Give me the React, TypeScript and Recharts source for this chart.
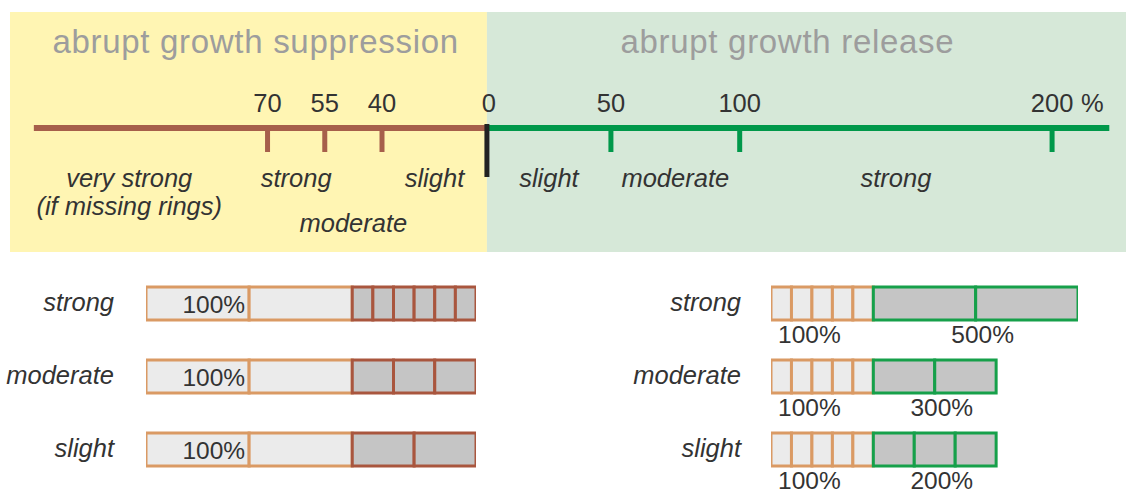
import {
  ComposedChart,
  BarChart,
  Bar,
  Scatter,
  XAxis,
  YAxis,
  ReferenceArea,
  ReferenceLine,
} from 'recharts'

const FONT = '"Liberation Sans", Arial, Helvetica, sans-serif'
const INK = '#333333'

// Schematic axis: % decrease left of 0, % increase right of 0 (axis units, not to scale)
const suppressionTickLabels = ['70', '55', '40']
const suppressionTickValues = [-92, -68, -44]
const releaseTickLabels = ['50', '100', '200']
const releaseTickValues = [52, 106, 237]
const axisExtent = [-190, 261]
const panelExtent = [-200, 268]

const suppressionClasses = ['very strong', 'strong', 'moderate', 'slight']
const suppressionNotes = ['(if missing rings)', '', '', '']
const releaseClasses = ['slight', 'moderate', 'strong']

const panelTitles = ['abrupt growth suppression', 'abrupt growth release']

// Ring-width examples (width of each ring, % of a normal ring)
const intensities = ['strong', 'moderate', 'slight']
const suppressionControl = [100, 100]
const suppressionRings = [
  [20, 20, 20, 20, 20, 20],
  [40, 40, 40],
  [60, 60],
]
const suppressionLabels = ['20%', '30%', '50%']
const releaseControl = [100, 100, 100, 100, 100]
const releaseRings = [
  [500, 500],
  [300, 300],
  [200, 200, 200],
]
const releaseLabels = ['500%', '300%', '200%']

const YELLOW = '#fff5b3'
const MINT = '#d6e8d8'
const BROWN = '#a65f4b'
const GREEN = '#00984a'
const LIGHT = '#ebebeb'
const LIGHT_EDGE = '#da9a64'
const DARK = '#c5c5c5'

// top panel layout (y measured in px below the panel top)
const AXIS_Y = 116
const CLASS_Y = [175, 220]
const TITLE_Y = 41
const TITLE_X = [-97, 126]

function TickMark(props: any) {
  const { cx, cy, payload } = props
  const zero = payload.x === 0
  const color = zero ? '#222' : payload.x < 0 ? BROWN : GREEN
  return (
    <g>
      <line
        x1={cx}
        x2={cx}
        y1={zero ? cy - 4 : cy}
        y2={zero ? cy + 49 : cy + 24}
        stroke={color}
        strokeWidth={5}
      />
      <text x={cx + (zero ? 2 : 0)} y={cy - 16} textAnchor="middle" fontSize={25.5} fill={INK} fontFamily={FONT}>
        {payload.label}
      </text>
      {payload.unit && (
        <text x={cx + 29} y={cy - 16} fontSize={25.5} fill={INK} fontFamily={FONT}>
          {payload.unit}
        </text>
      )}
    </g>
  )
}

function ClassLabel(props: any) {
  const { cx, cy, payload } = props
  return (
    <g fontFamily={FONT} fontStyle="italic" fontSize={25.5} fill={INK} textAnchor="middle">
      <text x={cx} y={cy}>{payload.label}</text>
      {payload.note && <text x={cx} y={cy + 28}>{payload.note}</text>}
    </g>
  )
}

function TitleLabel(props: any) {
  const { cx, cy, payload } = props
  return (
    <text x={cx} y={cy} textAnchor="middle" fontSize={33} letterSpacing={0.7} fill="#9d9d9d" fontFamily={FONT}>
      {payload.label}
    </text>
  )
}

function ScalePanel() {
  const ticks = [
    ...suppressionTickLabels.map((label, i) => ({ x: suppressionTickValues[i], y: AXIS_Y, label })),
    { x: 0, y: AXIS_Y, label: '0' },
    ...releaseTickLabels.map((label, i) => ({
      x: releaseTickValues[i],
      y: AXIS_Y,
      label,
      unit: i === releaseTickLabels.length - 1 ? '%' : undefined,
    })),
  ]

  const supBounds = [panelExtent[0], ...suppressionTickValues, 0]
  const relBounds = [0, ...releaseTickValues]
  const classes = [
    ...suppressionClasses.map((label, i) => ({
      x: (supBounds[i] + supBounds[i + 1]) / 2 - (i === 0 ? 4 : 0),
      y: CLASS_Y[label === 'moderate' ? 1 : 0],
      label,
      note: suppressionNotes[i],
    })),
    ...releaseClasses.map((label, i) => ({
      x: (relBounds[i] + relBounds[i + 1]) / 2,
      y: CLASS_Y[0],
      label,
    })),
  ]

  const titles = panelTitles.map((label, i) => ({ x: TITLE_X[i], y: TITLE_Y, label }))

  return (
    <ComposedChart width={1126} height={252} margin={{ top: 12, right: 0, bottom: 0, left: 10 }}>
      <XAxis type="number" dataKey="x" domain={panelExtent} hide allowDataOverflow />
      <YAxis type="number" dataKey="y" domain={[0, 240]} reversed hide allowDataOverflow />
      <ReferenceArea x1={panelExtent[0]} x2={0} fill={YELLOW} fillOpacity={1} stroke="none" />
      <ReferenceArea x1={0} x2={panelExtent[1]} fill={MINT} fillOpacity={1} stroke="none" />
      <ReferenceLine
        segment={[{ x: axisExtent[0], y: AXIS_Y }, { x: 0, y: AXIS_Y }]}
        stroke={BROWN}
        strokeWidth={6}
      />
      <ReferenceLine
        segment={[{ x: 0, y: AXIS_Y }, { x: axisExtent[1], y: AXIS_Y }]}
        stroke={GREEN}
        strokeWidth={6}
      />
      <Scatter data={titles} shape={TitleLabel} isAnimationActive={false} />
      <Scatter data={ticks} shape={TickMark} isAnimationActive={false} />
      <Scatter data={classes} shape={ClassLabel} isAnimationActive={false} />
    </ComposedChart>
  )
}

interface RingChartProps {
  control: number[]
  rings: number[][]
  labels: string[]
  domainMax: number
  axisWidth: number
  plotWidth: number
  chartWidth: number
  edge: string
  release?: boolean
}

function RingChart({ control, rings, labels, domainMax, axisWidth, plotWidth, chartWidth, edge, release }: RingChartProps) {
  const data = intensities.map((name, i) => {
    const row: Record<string, string | number> = { name }
    control.forEach((v, j) => (row[`c${j}`] = v))
    rings[i].forEach((v, j) => (row[`r${j}`] = v))
    return row
  })
  const maxRings = Math.max(...rings.map((r) => r.length))
  const textProps = { fontSize: 24.5, fill: INK, fontFamily: FONT }

  const controlShape = (j: number) => (p: any) => {
    const { x, y, width, height } = p
    if (!(width > 0)) return <g />
    return (
      <g>
        <rect x={x} y={y} width={width} height={height} fill={LIGHT} stroke={LIGHT_EDGE} strokeWidth={3} />
        {j === 0 &&
          (release ? (
            <text x={x + 7} y={y + height + 23} {...textProps}>{`${control[0]}%`}</text>
          ) : (
            <text x={x + width - 4} y={y + height / 2 + 9} textAnchor="end" {...textProps}>{`${control[0]}%`}</text>
          ))}
      </g>
    )
  }

  const ringShape = (j: number) => (p: any) => {
    const { x, y, width, height, payload } = p
    if (!(width > 0)) return <g />
    const row = intensities.indexOf(payload.name)
    const n = rings[row].length
    return (
      <g>
        <rect x={x} y={y} width={width} height={height} fill={DARK} stroke={edge} strokeWidth={3} />
        {release && j === 0 && (
          <text x={x + (width * n) / 2 + 7} y={y + height + 23} textAnchor="middle" {...textProps}>
            {labels[row]}
          </text>
        )}
        {!release && j === n - 1 && (
          <text x={x + width + 13} y={y + height / 2 + 10} {...textProps}>
            {labels[row]}
          </text>
        )}
      </g>
    )
  }

  return (
    <BarChart
      layout="vertical"
      width={chartWidth}
      height={229}
      data={data}
      barSize={33}
      margin={{ top: 0, right: chartWidth - axisWidth - plotWidth, bottom: 10, left: 0 }}
    >
      <XAxis type="number" domain={[0, domainMax]} hide allowDataOverflow />
      <YAxis
        type="category"
        dataKey="name"
        width={axisWidth}
        axisLine={false}
        tickLine={false}
        tick={(p: any) => (
          <text
            x={axisWidth - (release ? 30 : 32)}
            y={p.y + 7}
            textAnchor="end"
            fontStyle="italic"
            fontSize={25.5}
            fill={INK}
            fontFamily={FONT}
          >
            {p.payload.value}
          </text>
        )}
      />
      {control.map((_, j) => (
        <Bar key={`c${j}`} dataKey={`c${j}`} stackId="ring" shape={controlShape(j)} isAnimationActive={false} />
      ))}
      {Array.from({ length: maxRings }, (_, j) => (
        <Bar key={`r${j}`} dataKey={`r${j}`} stackId="ring" shape={ringShape(j)} isAnimationActive={false} />
      ))}
    </BarChart>
  )
}

export default function App() {
  return (
    <div style={{ position: 'absolute', left: 0, top: 0, width: 1126, height: 493, background: '#fff', overflow: 'hidden' }}>
      <div style={{ position: 'absolute', left: 0, top: 0 }}>
        <ScalePanel />
      </div>
      <div style={{ position: 'absolute', left: 0, top: 267 }}>
        <RingChart
          control={suppressionControl}
          rings={suppressionRings}
          labels={suppressionLabels}
          domainMax={320}
          axisWidth={146}
          plotWidth={330}
          chartWidth={560}
          edge="#a9563e"
        />
      </div>
      <div style={{ position: 'absolute', left: 600, top: 267 }}>
        <RingChart
          control={releaseControl}
          rings={releaseRings}
          labels={releaseLabels}
          domainMax={1500}
          axisWidth={171}
          plotWidth={307}
          chartWidth={526}
          edge="#16a04a"
          release
        />
      </div>
    </div>
  )
}
